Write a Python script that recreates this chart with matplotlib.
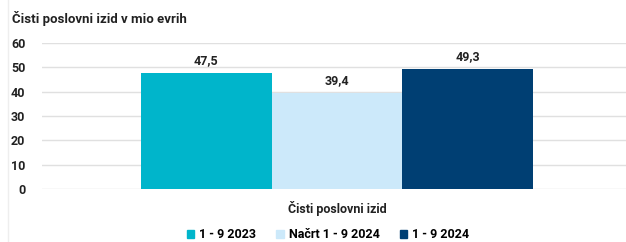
import numpy as np
import matplotlib
matplotlib.use("Agg")
from matplotlib import pyplot as plt
from matplotlib.lines import Line2D

plt.rcParams['font.family'] = ['Roboto', 'DejaVu Sans']
plt.rcParams['font.weight'] = 'bold'

category = "Čisti poslovni izid"
series = ["1 - 9 2023", "Načrt 1 - 9 2024", "1 - 9 2024"]
values = [47.5, 39.4, 49.3]
labels = ["47,5", "39,4", "49,3"]
colors = ["#00B5CB", "#CCE9FA", "#003F73"]
yticks = [0, 10, 20, 30, 40, 50, 60]

W, H = 626, 242
fig = plt.figure(figsize=(W / 100, H / 100), dpi=100)
ax = fig.add_axes([42 / W, 1 - 189 / H, (626 - 42) / W, (189 - 43) / H])

pos = np.arange(len(series)) - 1
bars = ax.bar(pos, values, width=1.0, color=colors, zorder=3)
for b, lab in zip(bars, labels):
    ax.text(b.get_x() + b.get_width() / 2, b.get_height() + 2.6, lab,
            ha="center", va="bottom", fontsize=9, fontweight="bold", color="#222222")

ax.set_ylim(0, 60)
ax.set_xlim(-2.257, 2.211)
ax.set_yticks(yticks)
ax.set_yticklabels([str(t) for t in yticks], fontsize=9, fontweight="bold", color="#222222")
ax.yaxis.grid(True, color="#e0e0e0", linewidth=1, zorder=0)
ax.set_xticks([])
for s in ax.spines.values():
    s.set_visible(False)
ax.tick_params(axis="y", length=0, pad=12)

fig.text(12 / W, 1 - 18 / H, "Čisti poslovni izid v mio evrih", fontsize=9.5,
         fontweight="bold", color="#222222", va="center", ha="left")
fig.text(337 / W, 1 - 209 / H, category, fontsize=9, fontweight="bold",
         color="#222222", ha="center", va="center")

handles = [plt.Rectangle((0, 0), 1, 1, color=c) for c in colors]
fig.legend(handles, series, loc="center", bbox_to_anchor=(328 / W, 1 - 235 / H),
           ncol=3, frameon=False, handlelength=0.6, handleheight=0.6,
           handletextpad=0.4, columnspacing=1.6, prop={'weight': 'bold', 'size': 9})

fig.add_artist(Line2D([8 / W, 8 / W], [0, 1], color="#eeeeee", linewidth=1,
                      transform=fig.transFigure))

fig.savefig("out.png", dpi=100)
